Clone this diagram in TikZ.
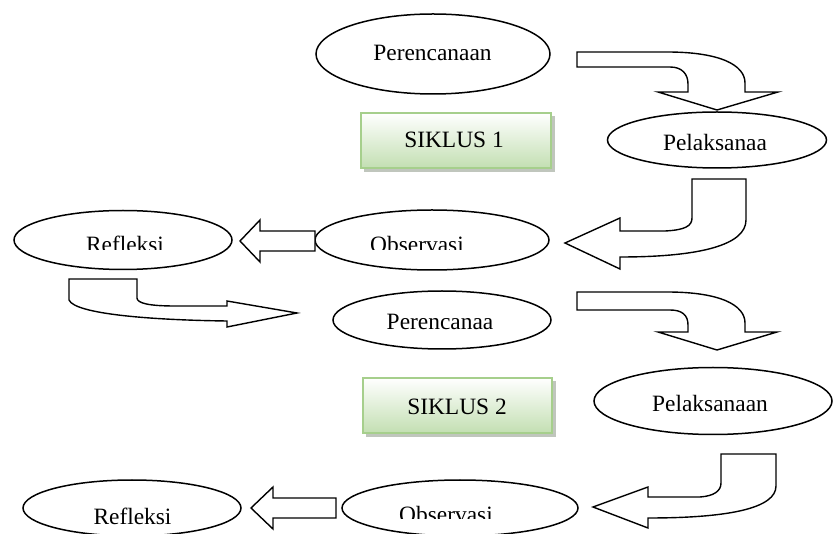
\documentclass[tikz,border=0pt]{standalone}
\usepackage{fontspec}
\setmainfont{Liberation Serif}
\usetikzlibrary{shapes.geometric}
\definecolor{boxbot}{RGB}{195,223,178}
\definecolor{boxline}{RGB}{166,207,140}
\definecolor{shadowgray}{RGB}{150,160,145}
\tikzset{
  ell/.style={draw, ellipse, line width=1.5pt, inner sep=0pt, fill=white},
  lbl/.style={anchor=base, inner sep=0pt, font=\fontsize{23.4}{28}\selectfont},
  barrow/.style={draw, line width=1.4pt, line join=miter, fill=white},
  siklus/.style={draw=boxline, line width=2pt, top color=white, bottom color=boxbot},
  sshadow/.style={fill=shadowgray, opacity=0.6}
}
\begin{document}
\begin{tikzpicture}[x=1pt,y=-1pt]
\clip (0,0) rectangle (833,534);
\fill[white] (0,0) rectangle (833,534);

% ellipses
\node[ell, minimum width=234pt, minimum height=80pt] (e1) at (433,54) {};
\node[ell, minimum width=219pt, minimum height=56pt] (e2) at (717,140) {};
\node[ell, minimum width=234pt, minimum height=60pt] (e3) at (432,240) {};
\node[ell, minimum width=218pt, minimum height=59pt] (e4) at (123,240) {};
\node[ell, minimum width=218pt, minimum height=58pt] (e5) at (442,320) {};
\node[ell, minimum width=238pt, minimum height=67pt] (e6) at (713,401) {};
\node[ell, minimum width=236pt, minimum height=56pt] (e7) at (460,508) {};
\node[ell, minimum width=218pt, minimum height=56pt] (e8) at (132,508) {};

% SIKLUS boxes
\fill[sshadow] (364,116) rectangle (555,172);
\path[siklus] (361,113) rectangle (551,168);
\fill[sshadow] (366,381) rectangle (556,437);
\path[siklus] (363,378) rectangle (552,433);

% block arrows
\draw[barrow] (577,52) -- (667,52) .. controls (720,52) and (745,65) .. (745,83)
  -- (745,92) -- (778,92) -- (717,110) -- (658,92) -- (688,92) -- (688,84)
  .. controls (688,74) and (682,67) .. (670,67) -- (577,67) -- cycle;
\draw[barrow] (692,179) -- (746,179) -- (746,220) .. controls (746,245) and (700,257) .. (620,257)
  -- (620,269) -- (565,243) -- (620,218) -- (620,231) -- (665,231)
  .. controls (685,230) and (692,226) .. (692,218) -- cycle;
\draw[barrow] (315,231) -- (260,231) -- (260,220) -- (240,241) -- (260,262) -- (260,251) -- (315,251) -- cycle;
\draw[barrow] (69,279) -- (137,279) -- (137,298) .. controls (137,303) and (148,306) .. (175,306)
  -- (227,306) -- (227,301) -- (297,313) -- (227,327) -- (227,321)
  .. controls (150,320) and (75,314) .. (69,300) -- cycle;
\draw[barrow] (577,292) -- (667,292) .. controls (720,292) and (745,305) .. (745,323)
  -- (745,332) -- (777,332) -- (717,350) -- (658,332) -- (688,332) -- (688,325)
  .. controls (688,315) and (682,310) .. (670,310) -- (577,310) -- cycle;
\draw[barrow] (721,454) -- (776,454) -- (776,486) .. controls (776,508) and (730,518) .. (648,518)
  -- (648,528) -- (593,507) -- (648,487) -- (648,497) -- (700,497)
  .. controls (714,496) and (721,491) .. (721,483) -- cycle;
\draw[barrow] (336,498) -- (273,498) -- (273,487) -- (251,508) -- (273,529) -- (273,518) -- (336,518) -- cycle;

% labels
\node[lbl] (t1) at (432.5,61) {Perencanaan};
\node[lbl] (t2) at (715,151) {Pelaksanaa};
\node[lbl] (s1) at (454,148) {SIKLUS 1};
\begin{scope}
\clip (0,0) rectangle (833,250);
\node[lbl] (t3) at (417,253) {Observasi};
\node[lbl] (t4) at (125,253) {Refleksi};
\end{scope}
\node[lbl] (t5) at (440,330) {Perencanaa};
\node[lbl] (t6) at (710,411.5) {Pelaksanaan};
\node[lbl] (s2) at (457,415) {SIKLUS 2};
\begin{scope}
\clip (0,0) rectangle (833,518);
\node[lbl] (t7) at (446,522) {Observasi};
\end{scope}
\node[lbl] (t8) at (132.5,524) {Refleksi};
\end{tikzpicture}
\end{document}
